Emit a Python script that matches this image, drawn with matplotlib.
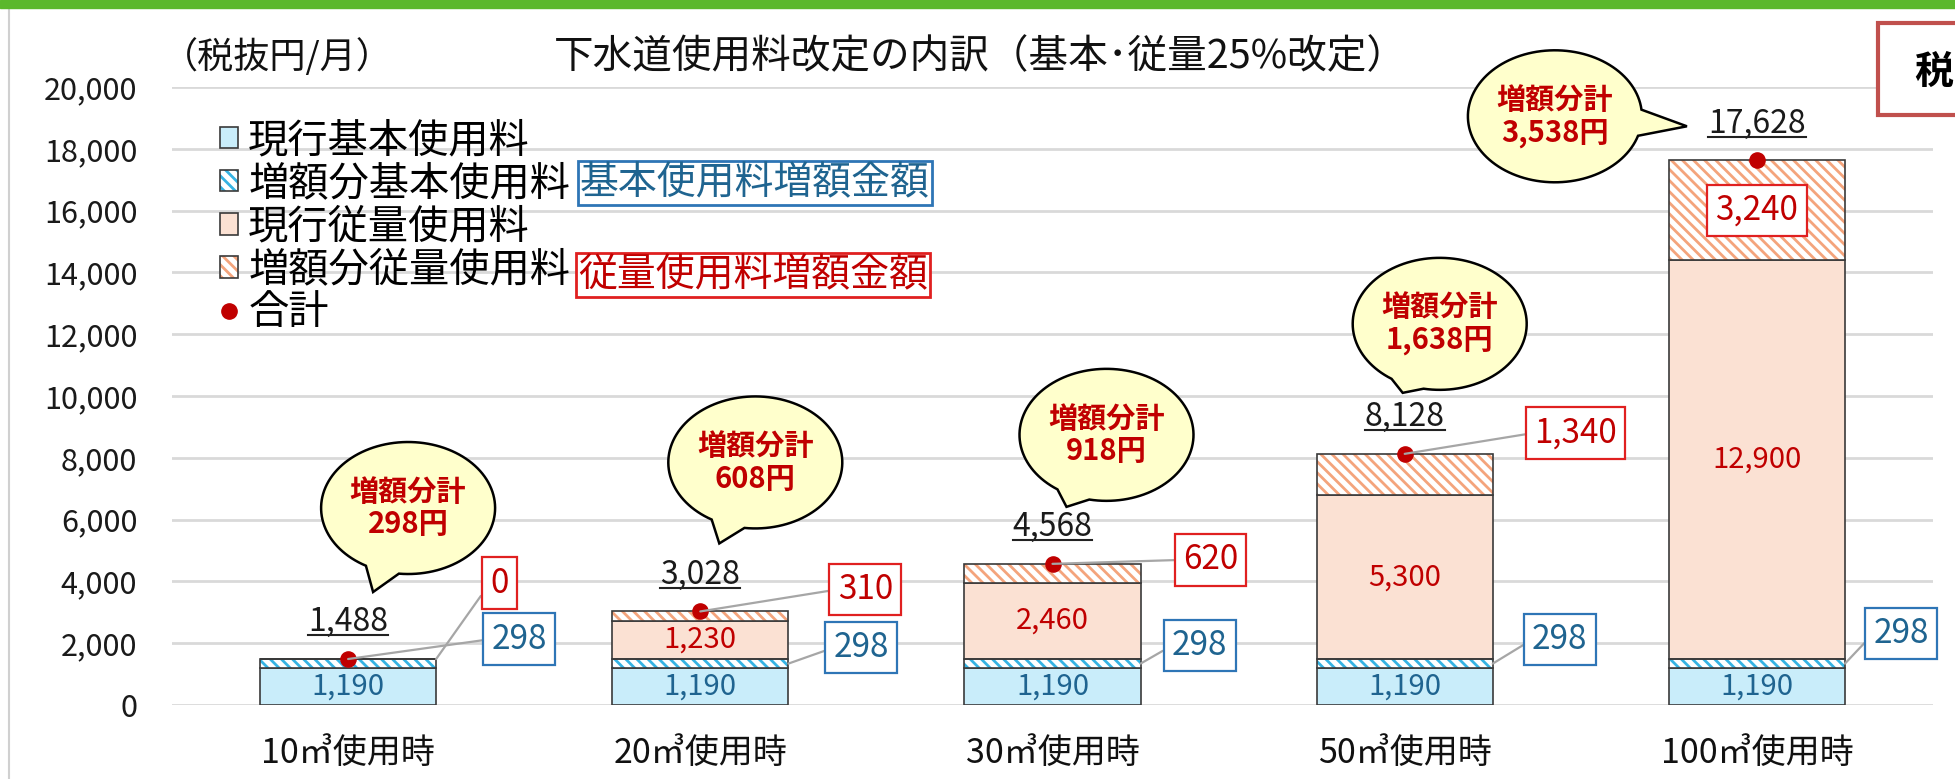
import numpy as np
import matplotlib.pyplot as plt
from matplotlib.patches import Rectangle, Polygon
from matplotlib.lines import Line2D
from matplotlib.transforms import IdentityTransform
from matplotlib.colors import to_rgba

plt.rcParams['font.family'] = ['Noto Sans CJK JP', 'DejaVu Sans']
plt.rcParams['hatch.linewidth'] = 2.0

# data
categories = ['10㎥使用時', '20㎥使用時', '30㎥使用時', '50㎥使用時', '100㎥使用時']
base_now = [1190, 1190, 1190, 1190, 1190]   # 現行基本使用料
base_up = [298, 298, 298, 298, 298]         # 増額分基本使用料
vol_now = [0, 1230, 2460, 5300, 12900]      # 現行従量使用料
vol_up = [0, 310, 620, 1340, 3240]          # 増額分従量使用料
totals = [1488, 3028, 4568, 8128, 17628]    # 合計
up_totals = [298, 608, 918, 1638, 3538]     # 増額分計
yticks = [0, 2000, 4000, 6000, 8000, 10000, 12000, 14000, 16000, 18000, 20000]

# colours
LBLUE = '#C9EDFA'
HBLUE = '#35B3E3'
PEACH = '#FBE1D3'
HORANGE = '#F4A47C'
EDGE = '#3a3a3a'
RED = '#C00000'
BLUETXT = '#1F6490'
BLUEBOX = '#2E75B6'
REDBOX = '#E02020'
GRID = '#D9D9D9'

W, H = 1955, 779
fig = plt.figure(figsize=(W / 100, H / 100), dpi=100)
ax = fig.add_axes([172 / W, 74 / H, 1761 / W, 618 / H])

x = np.arange(len(categories))
bw = 0.5
base_now = np.array(base_now)
base_up = np.array(base_up)
vol_now = np.array(vol_now)
vol_up = np.array(vol_up)
b2 = base_now + base_up
b3 = b2 + vol_now

ax.bar(x, base_now, bw, color=LBLUE, edgecolor=EDGE, lw=1.2, zorder=3)
ax.bar(x, base_up, bw, bottom=base_now, color='white', edgecolor=HBLUE,
       hatch='\\\\\\', lw=0, zorder=3)
ax.bar(x, base_up, bw, bottom=base_now, fill=False, edgecolor=EDGE, lw=1.2, zorder=4)
ax.bar(x, vol_now, bw, bottom=b2, color=PEACH, edgecolor=EDGE, lw=1.2, zorder=3)
ax.bar(x, vol_up, bw, bottom=b3, color='white', edgecolor=HORANGE,
       hatch='\\\\\\', lw=0, zorder=3)
ax.bar(x, vol_up, bw, bottom=b3, fill=False, edgecolor=EDGE, lw=1.2, zorder=4)
ax.scatter(x, totals, s=120, color=RED, zorder=6)

ax.set_xlim(-0.5, len(categories) - 0.5)
ax.set_ylim(0, 20000)
ax.set_yticks(yticks)
ax.set_yticklabels([f'{v:,}' for v in yticks], fontsize=22, color='#1a1a1a')
ax.set_xticks(x)
ax.set_xticklabels(categories, fontsize=24.5, color='#111111')
ax.tick_params(axis='both', length=0)
ax.tick_params(axis='y', pad=25)
ax.tick_params(axis='x', pad=22)
for s in ax.spines.values():
    s.set_visible(False)
ax.grid(axis='y', color=GRID, lw=2, zorder=0)
ax.set_axisbelow(True)

# labels inside bars
for i in x:
    ax.text(i, base_now[i] / 2, f'{base_now[i]:,}', ha='center', va='center',
            fontsize=21, color=BLUETXT, zorder=7)
    if vol_now[i] > 0:
        ax.text(i, b2[i] + vol_now[i] / 2, f'{vol_now[i]:,}', ha='center',
                va='center', fontsize=21, color=RED, zorder=7)

# total labels (underlined later)
tot_txt = []
for i in x:
    t = ax.annotate(f'{totals[i]:,}', xy=(i, totals[i]), xytext=(0, 20),
                    textcoords='offset points', ha='center', va='baseline',
                    fontsize=23, color='#1a1a1a', zorder=7)
    tot_txt.append(t)

# callout boxes, offsets in pixels from the anchor
red_off = [(63, 76), (165, 22), (158, 4), (171, 21), None]
red_anchor_dx = [bw / 2, 0, 0, 0, 0]
blue_off = [(171, 20), (73, 16), (59, 18), (67, 24), (56, 30)]
leader = dict(arrowstyle='-', color='#A6A6A6', lw=1.6, relpos=(0, 0.5),
              shrinkA=0, shrinkB=0)
for i in x:
    rb = dict(boxstyle='square,pad=0.25', fc='white', ec=REDBOX, lw=1.6)
    if red_off[i] is None:
        ax.text(i, b3[i] + vol_up[i] / 2, f'{vol_up[i]:,}', ha='center', va='center',
                fontsize=24, color=RED, bbox=rb, zorder=8)
    else:
        dx, dy = red_off[i]
        ax.annotate(f'{vol_up[i]:,}', xy=(i + red_anchor_dx[i], totals[i]),
                    xytext=(dx * 0.72, dy * 0.72), textcoords='offset points',
                    ha='center', va='center', fontsize=24, color=RED, bbox=rb,
                    arrowprops=leader, zorder=8)
    bb = dict(boxstyle='square,pad=0.25', fc='white', ec=BLUEBOX, lw=1.6)
    dx, dy = blue_off[i]
    if i == 0:
        anchor = (i, totals[i])
    else:
        anchor = (i + bw / 2, base_now[i] + base_up[i] / 2)
    ax.annotate(f'{base_up[i]:,}', xy=anchor, xytext=(dx * 0.72, dy * 0.72),
                textcoords='offset points', ha='center', va='center', fontsize=24,
                color=BLUETXT, bbox=bb, arrowprops=leader, zorder=8)

# legend
def hatch_proxy(col):
    p = Rectangle((0, 0), 1, 1, facecolor='white', edgecolor=EDGE, hatch='\\\\\\', lw=1.2)
    p._hatch_color = to_rgba(col)
    return p

handles = [Rectangle((0, 0), 1, 1, facecolor=LBLUE, edgecolor=EDGE, lw=1.2),
           hatch_proxy(HBLUE),
           Rectangle((0, 0), 1, 1, facecolor=PEACH, edgecolor=EDGE, lw=1.2),
           hatch_proxy(HORANGE),
           Line2D([], [], marker='o', color=RED, ls='none', markersize=11)]
labels = ['現行基本使用料', '増額分基本使用料', '現行従量使用料', '増額分従量使用料', '合計']
fig.legend(handles, labels, loc='upper left', bbox_to_anchor=(220 / W, 1 - 120 / H),
           frameon=False, fontsize=29, handlelength=0.45, handleheight=0.45,
           handletextpad=0.25, labelspacing=0.05, borderaxespad=0, borderpad=0)

fig.text(580 / W, 1 - 183 / H, '基本使用料増額金額', fontsize=28, color=BLUETXT,
         ha='left', va='center',
         bbox=dict(boxstyle='square,pad=0.06', fc='white', ec=BLUEBOX, lw=2))
fig.text(578 / W, 1 - 275 / H, '従量使用料増額金額', fontsize=28, color=RED,
         ha='left', va='center',
         bbox=dict(boxstyle='square,pad=0.06', fc='white', ec=REDBOX, lw=2))

# titles
fig.text(162 / W, 1 - 57 / H, '（税抜円/月）', fontsize=26, ha='left', va='center',
         color='#111111')
fig.text(980 / W, 1 - 57 / H, '下水道使用料改定の内訳（基本･従量25%改定）', fontsize=28.5,
         ha='center', va='center', color='#111111')

# frame decorations
fig.patches.append(Rectangle((0, 1 - 8 / H), 1, 8 / H, transform=fig.transFigure,
                             color='#5BB82C', zorder=10))
fig.lines.append(Line2D([9 / W, 9 / W], [0, 1 - 9 / H], transform=fig.transFigure,
                        color='#D0D0D0', lw=1.5))
fig.patches.append(Rectangle((1878 / W, 1 - 115 / H), 0.1, 92 / H,
                             transform=fig.transFigure, fc='white', ec='#C0504D',
                             lw=3, zorder=5))
fig.text(1914 / W, 1 - 72 / H, '税', fontsize=28, fontweight='bold', ha='left',
         va='center', zorder=6)

# speech bubbles: offsets in pixels from (bar centre, bar top)
bub_center = [(60, 151), (55, 149), (54, 129), (35, 130), (-202, 44)]
bub_tip = [(25, 67), (19, 68), (14, 57), (-2, 61), (-70, 34)]
ra, rb_ = 87, 66

fig.canvas.draw()
for i in x:
    px, py = ax.transData.transform((i, totals[i]))
    cx, cy = px + bub_center[i][0], py + bub_center[i][1]
    tx, ty = px + bub_tip[i][0], py + bub_tip[i][1]
    phi = np.arctan2((ty - cy) / rb_, (tx - cx) / ra)
    d = 0.2
    t = np.linspace(phi + d, phi + 2 * np.pi - d, 120)
    pts = np.column_stack([cx + ra * np.cos(t), cy + rb_ * np.sin(t)])
    pts = np.vstack([pts, [tx, ty]])
    ax.add_patch(Polygon(pts, closed=True, fc='#FFFFCC', ec='black', lw=1.8,
                         transform=IdentityTransform(), clip_on=False, zorder=9))
    ax.text(cx, cy, f'増額分計\n{up_totals[i]:,}円', transform=IdentityTransform(),
            ha='center', va='center', fontsize=21, fontweight='bold', color=RED,
            linespacing=1.1, zorder=10)

# underline totals
r = fig.canvas.get_renderer()
for t in tot_txt:
    bb = t.get_window_extent(r)
    base_y = ax.transData.transform(t.xy)[1] + 20 * 100 / 72 - 4
    fig.lines.append(Line2D([bb.x0, bb.x1], [base_y, base_y], transform=IdentityTransform(),
                            color='#222222', lw=1.5))

fig.savefig('out.png', dpi=100)
